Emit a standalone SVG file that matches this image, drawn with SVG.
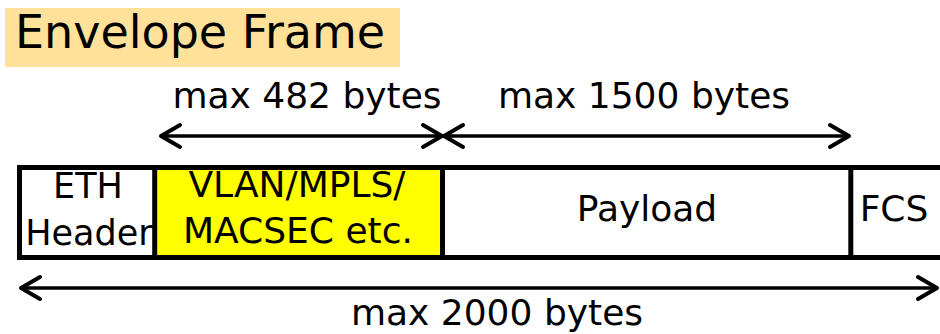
<svg xmlns="http://www.w3.org/2000/svg" width="940" height="334" viewBox="0 0 940 334">
<style>
text{font-family:"DejaVu Sans","Liberation Sans",sans-serif;fill:#000;}
.lbl{font-size:36px;text-anchor:middle;}
.box{stroke:#000;stroke-width:5;}
.arr{stroke:#000;stroke-width:3.5;fill:none;marker-start:url(#chev);marker-end:url(#chev);}
</style>
<defs>
<marker id="chev" markerUnits="userSpaceOnUse" viewBox="-24 -14 28 28" refX="0" refY="0" markerWidth="28" markerHeight="28" orient="auto-start-reverse" overflow="visible">
<path d="M-20,-11 L-1,0 L-20,11" fill="none" stroke="#000" stroke-width="4" stroke-linecap="round" stroke-linejoin="round"/>
</marker>
</defs>
<g id="title">
<rect x="5" y="8" width="395" height="59" fill="#FFE199"/>
<text x="15" y="48" font-size="46px">Envelope Frame</text>
</g>
<g id="frame">
<rect class="box" x="19.5" y="167.5" width="950" height="90" fill="#fff"/>
</g>
<g id="eth">
<text class="lbl" x="88" y="198" style="font-size:35px">ETH</text>
<text class="lbl" x="89" y="245" style="font-size:35px">Header</text>
</g>
<g id="vlan">
<rect x="157" y="170" width="283" height="85" fill="#FFFF00"/>
<text class="lbl" x="297" y="197">VLAN/MPLS/</text>
<text class="lbl" x="298" y="243">MACSEC etc.</text>
</g>
<g id="payload">
<text class="lbl" x="647" y="221">Payload</text>
</g>
<g id="fcs">
<text class="lbl" x="894" y="221">FCS</text>
</g>
<g id="dividers">
<line class="box" x1="154.7" y1="167.5" x2="154.7" y2="257.5"/>
<line class="box" x1="442.5" y1="167.5" x2="442.5" y2="257.5"/>
<line class="box" x1="850.8" y1="167.5" x2="850.8" y2="257.5"/>
</g>
<g id="connectors">
<line class="arr" x1="160" y1="136" x2="443" y2="136"/>
<line class="arr" x1="443" y1="136" x2="850" y2="136"/>
<line class="arr" x1="20" y1="288" x2="938" y2="288"/>
</g>
<g id="labels">
<text class="lbl" x="307" y="108">max 482 bytes</text>
<text class="lbl" x="644" y="108">max 1500 bytes</text>
<text class="lbl" x="497" y="325">max 2000 bytes</text>
</g>
</svg>
